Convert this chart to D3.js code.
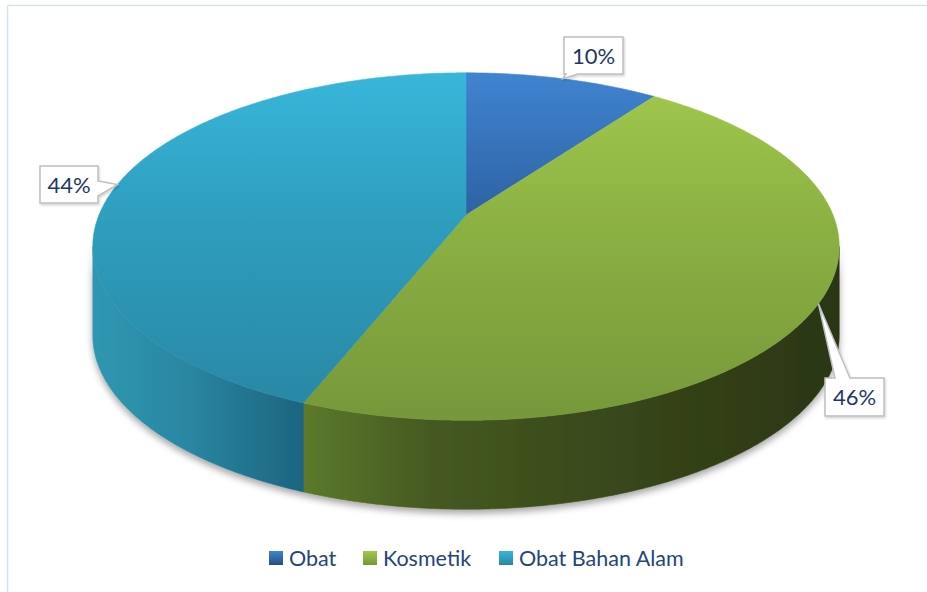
<!DOCTYPE html>
<html>
<head>
<meta charset="utf-8">
<script src="https://cdn.jsdelivr.net/npm/d3@7"></script>
<style>
  html, body { margin: 0; padding: 0; background: #fff; }
  svg { display: block; }
</style>
</head>
<body>
<svg id="chart" width="927" height="592"></svg>
<script>
// Share of product registrations by category
const categories = ["Obat", "Kosmetik", "Obat Bahan Alam"];
const shares = [10, 46, 44];
const labelTexts = ["10%", "46%", "44%"];

const topColors  = [["#4084D0", "#2C5E9F", "#24507F"], ["#A1C94D", "#8BB042", "#76973A"], ["#38B6DA", "#2E9CBC", "#2886A2"]];
const sideStops  = [
  [[0, "#2B5A95"], [1, "#1E3F6A"]],
  [[0.28, "#5C7A2B"], [0.45, "#455A21"], [0.7, "#38471B"], [1, "#2A3612"]],
  [[0, "#2F97B2"], [0.12, "#2A88A3"], [0.28, "#1D6580"], [1, "#1A5A72"]]
];

const svg = d3.select("#chart");

// perspective ellipse parameters for the pie top
const cx = 466, cy = 215, Bx = 367, Ay = 168, kp = 0.1816, depth = 89;
const proj = a => {
  const s = 1 + kp * Math.cos(a);
  return [cx + Bx * Math.sin(a) / s, cy - Ay * Math.cos(a) / s];
};
const arcPts = (a0, a1, dy = 0) => {
  const n = Math.max(2, Math.ceil(Math.abs(a1 - a0) / (Math.PI / 360)));
  return d3.range(n + 1).map(i => {
    const p = proj(a0 + (a1 - a0) * i / n);
    return [p[0], p[1] + dy];
  });
};

const defs = svg.append("defs");
const f = defs.append("filter").attr("id", "pieShadow").attr("x", "-10%").attr("y", "-10%").attr("width", "120%").attr("height", "130%");
f.append("feDropShadow").attr("dx", 0).attr("dy", 4).attr("stdDeviation", 3.5).attr("flood-color", "#000").attr("flood-opacity", 0.35);
const f2 = defs.append("filter").attr("id", "boxShadow").attr("x", "-20%").attr("y", "-20%").attr("width", "140%").attr("height", "140%");
f2.append("feDropShadow").attr("dx", 1).attr("dy", 1.5).attr("stdDeviation", 1.2).attr("flood-color", "#000").attr("flood-opacity", 0.18);

categories.forEach((c, i) => {
  const g = defs.append("linearGradient").attr("id", "top" + i)
    .attr("gradientUnits", "userSpaceOnUse").attr("x1", 0).attr("x2", 0).attr("y1", 73).attr("y2", 425);
  g.append("stop").attr("offset", 0).attr("stop-color", topColors[i][0]);
  g.append("stop").attr("offset", 0.45).attr("stop-color", topColors[i][1]);
  g.append("stop").attr("offset", 1).attr("stop-color", topColors[i][2]);
  const s = defs.append("linearGradient").attr("id", "side" + i)
    .attr("gradientUnits", "userSpaceOnUse").attr("x1", 92).attr("x2", 840).attr("y1", 0).attr("y2", 0);
  sideStops[i].forEach(st => s.append("stop").attr("offset", st[0]).attr("stop-color", st[1]));
  const l = defs.append("linearGradient").attr("id", "leg" + i).attr("x1", 0).attr("x2", 0).attr("y1", 0).attr("y2", 1);
  l.append("stop").attr("offset", 0).attr("stop-color", topColors[i][0]);
  l.append("stop").attr("offset", 1).attr("stop-color", topColors[i][2]);
});

// chart area frame
svg.append("rect").attr("x", 7.5).attr("y", 5.5).attr("width", 960).attr("height", 620)
  .attr("fill", "none").attr("stroke", "#D5E2F3").attr("stroke-width", 1.5);

const pie = d3.pie().sort(null).startAngle(0).endAngle(2 * Math.PI)(shares);

// visible outer wall spans the near half between the silhouette angles
const visA0 = Math.acos(-kp), visA1 = 2 * Math.PI - Math.acos(-kp);
const line = d3.line();

const sides = svg.append("g").attr("filter", "url(#pieShadow)");
pie.forEach((d, i) => {
  const a0 = Math.max(d.startAngle, visA0), a1 = Math.min(d.endAngle, visA1);
  if (a1 <= a0) return;
  const topArc = arcPts(a0, a1);
  const botArc = arcPts(a1, a0, depth);
  sides.append("path").attr("d", line(topArc.concat(botArc)) + "Z")
    .attr("fill", `url(#side${i})`).attr("stroke", `url(#side${i})`).attr("stroke-width", 0.6);
});

const tops = svg.append("g");
pie.forEach((d, i) => {
  const pts = [[cx, cy]].concat(arcPts(d.startAngle, d.endAngle));
  tops.append("path").attr("d", line(pts) + "Z")
    .attr("fill", `url(#top${i})`).attr("stroke", `url(#top${i})`).attr("stroke-width", 0.6);
});

// data callouts: box position and the side the pointer leaves from
const callouts = [
  { box: [564, 37, 623, 74], side: "bottom", base: [566, 578] },
  { box: [825, 378, 884, 416], side: "top", base: [835, 850] },
  { box: [40, 166, 98, 203], side: "right", base: [181, 196] }
];
const cg = svg.append("g");
pie.forEach((d, i) => {
  const c = callouts[i];
  const [x0, y0, x1, y1] = c.box;
  const tip = proj((d.startAngle + d.endAngle) / 2);
  let pts;
  if (c.side === "bottom") {
    pts = [[x0, y0], [x1, y0], [x1, y1], [c.base[1], y1], tip, [c.base[0], y1], [x0, y1]];
  } else if (c.side === "top") {
    pts = [[x0, y0], [c.base[0], y0], tip, [c.base[1], y0], [x1, y0], [x1, y1], [x0, y1]];
  } else {
    pts = [[x0, y0], [x1, y0], [x1, c.base[0]], tip, [x1, c.base[1]], [x1, y1], [x0, y1]];
  }
  cg.append("path").attr("d", line(pts) + "Z")
    .attr("fill", "#fff").attr("stroke", "#BFBFBF").attr("stroke-width", 1.5)
    .attr("stroke-linejoin", "miter").attr("filter", "url(#boxShadow)");
  cg.append("text").attr("x", (x0 + x1) / 2).attr("y", (y0 + y1) / 2 + 8)
    .attr("text-anchor", "middle").attr("font-family", "Lato, 'Open Sans', sans-serif")
    .attr("font-size", 22).attr("fill", "#1F3864").text(labelTexts[i]);
});

// legend
const legendX = [269, 363, 499];
const lg = svg.append("g");
categories.forEach((c, i) => {
  lg.append("rect").attr("x", legendX[i]).attr("y", 551).attr("width", 14).attr("height", 14)
    .attr("fill", `url(#leg${i})`);
  lg.append("text").attr("x", legendX[i] + 20).attr("y", 566)
    .attr("font-family", "Lato, 'Open Sans', sans-serif").attr("font-size", 21.5)
    .attr("fill", "#26457A").text(c);
});
</script>
</body>
</html>
